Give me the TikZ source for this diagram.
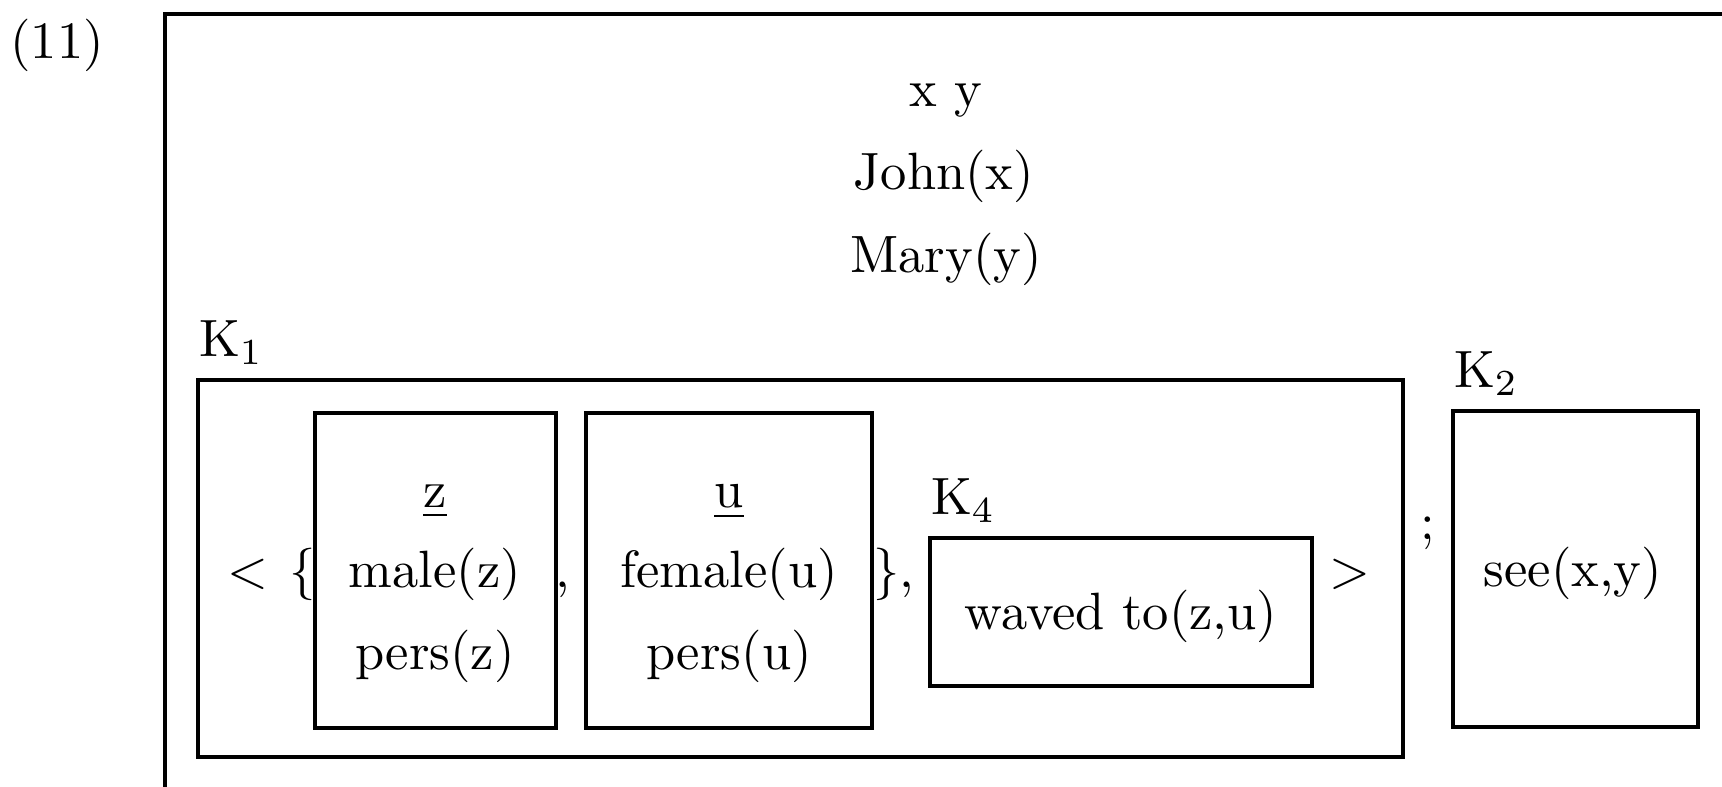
\documentclass[tikz,border=0pt]{standalone}
\usetikzlibrary{fit}
\begin{document}
\begin{tikzpicture}[x=0.19048pt,y=-0.19048pt,
  kbox/.style={draw, line width=0.6pt, inner sep=0pt},
  txt/.style={inner sep=0pt, anchor=base},
  lbl/.style={inner sep=0pt, anchor=base west}]
\clip (0,0) rectangle (1722,787);
\fill[white] (0,0) rectangle (1722,787);
% boxes
\node[kbox, fit={(165,14) (1780,830)}] (outer) {};
\node[kbox, fit={(198,380) (1403,757)}] (K1box) {};
\node[kbox, fit={(315,413) (556,728)}] (zbox) {};
\node[kbox, fit={(586,413) (872,728)}] (ubox) {};
\node[kbox, fit={(930,538) (1312,686)}] (K4box) {};
\node[kbox, fit={(1453,411) (1698,727)}] (K2box) {};
% example number
\node[txt] (num) at (57,59) {(11)};
% top universe
\node[txt] (xy) at (946,107) {x y};
\node[txt] (john) at (944,190) {John(x)};
\node[txt] (mary) at (946,273) {Mary(y)};
% labels
\node[lbl] (K1) at (198,357) {K$_1$};
\node[lbl] (K4) at (930,515) {K$_4$};
\node[lbl] (K2) at (1453,388) {K$_2$};
% z box contents
\node[txt] (z) at (435,508) {\underline{z}};
\node[txt] (malez) at (435,588) {male(z)};
\node[txt] (persz) at (435,670) {pers(z)};
% u box contents
\node[txt] (u) at (729,508) {\underline{u}};
\node[txt] (femaleu) at (729,588) {female(u)};
\node[txt] (persu) at (729,670) {pers(u)};
% punctuation
\node[txt] (lt) at (248,588) {$<$};
\node[txt] (lbr) at (303,588) {$\{$};
\node[txt] (comma1) at (563,588) {,};
\node[lbl] (rbr) at (872,588) {$\}$,};
\node[txt] (gt) at (1350,588) {$>$};
\node[txt] (semi) at (1428,540) {;};
% K4 and K2 contents
\node[txt] (waved) at (1121,630) {waved to(z,u)};
\node[txt] (see) at (1573,587) {see(x,y)};
\end{tikzpicture}
\end{document}
